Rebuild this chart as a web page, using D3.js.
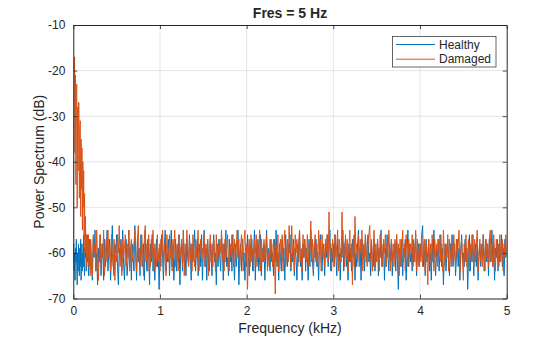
<!DOCTYPE html>
<html><head><meta charset="utf-8">
<script src="https://cdn.jsdelivr.net/npm/d3@7"></script>
<style>
body{margin:0;background:#fff}
svg{display:block}
text{font-family:"Liberation Sans",Arial,Helvetica,sans-serif;fill:#262626}
</style>
</head><body>
<svg id="c" width="560" height="337"></svg>
<script>
// ---- data ----
const titleText = "Fres = 5 Hz";
const xLabel = "Frequency (kHz)";
const yLabel = "Power Spectrum (dB)";
const seriesNames = ["Healthy", "Damaged"];
const xTicks = [0, 1, 2, 3, 4, 5];
const yTicks = [-70, -60, -50, -40, -30, -20, -10];

// low band: 0..195 Hz, 5 Hz step
const lowStartHz = 0, lowStepHz = 5;
const healthyLow = [-61,-58,-64,-60,-66,-59,-62,-57,-63,-67,-60,-64,-58,-62,-65,-59,-63,-57,-66,-61,
  -58,-64,-60,-63,-56,-62,-65,-59,-61,-57,-64,-60,-56,-62,-58,-65,-60,-57,-63,-59];
const damagedLow = [-62,-30,-19,-17,-38,-21,-45,-24,-23,-50,-28,-42,-27,-27,-48,-33,-31,-52,-35,-46,
  -37,-55,-40,-50,-42,-57,-47,-60,-52,-58,-56,-63,-57,-61,-59,-56,-63,-60,-58,-65];

// high band: 200..5000 Hz, 10 Hz step
const highStartHz = 200, highStepHz = 10;
const healthyHigh = [
-58,-63,-66,-57,-61,-55,-64,-60,-67,-59,
-62,-56,-65,-61,-58,-66,-57,-63,-60,-55,
-64,-59,-57,-66,-61,-54,-62,-65,-58,-60,
-56,-63,-67,-59,-61,-57,-64,-55,-62,-66,
-60,-57,-65,-62,-55,-63,-59,-66,-58,-61,
-64,-54,-60,-66,-57,-62,-59,-65,-56,-61,
-63,-58,-66,-55,-61,-64,-57,-60,-67,-58,
-62,-56,-64,-59,-66,-61,-57,-63,-60,-68,
-58,-63,-56,-61,-66,-59,-55,-64,-60,-62,
-57,-65,-60,-55,-63,-58,-66,-61,-57,-64,
-59,-62,-56,-67,-60,-58,-64,-55,-62,-60,
-65,-57,-61,-63,-56,-60,-66,-58,-62,-59,
-55,-64,-60,-57,-65,-61,-58,-63,-56,-66,
-60,-55,-63,-59,-66,-57,-62,-64,-58,-61,
-65,-59,-56,-62,-60,-67,-58,-63,-57,-61,
-64,-56,-60,-66,-58,-62,-55,-63,-61,-65,
-57,-62,-59,-64,-56,-61,-66,-58,-63,-60,
-55,-67,-61,-58,-64,-57,-62,-60,-66,-59,
-63,-56,-61,-65,-58,-62,-57,-64,-60,-55,
-66,-59,-62,-57,-64,-61,-56,-65,-59,-62,
-58,-66,-60,-55,-63,-59,-61,-64,-57,-62,
-60,-65,-57,-62,-55,-63,-60,-66,-58,-61,
-64,-57,-62,-59,-66,-56,-61,-63,-58,-60,
-56,-64,-60,-62,-57,-65,-59,-61,-66,-58,
-62,-55,-63,-60,-66,-58,-61,-57,-64,-59,
-61,-66,-57,-63,-55,-60,-62,-65,-58,-61,
-57,-63,-60,-66,-59,-56,-62,-64,-58,-60,
-65,-58,-61,-56,-63,-60,-55,-64,-59,-62,
-58,-63,-56,-61,-65,-57,-62,-60,-66,-59,
-61,-55,-64,-59,-57,-63,-60,-66,-58,-62,
-59,-64,-57,-61,-56,-66,-60,-63,-58,-55,
-63,-59,-66,-57,-61,-60,-64,-56,-62,-59,
-56,-62,-60,-65,-58,-61,-63,-57,-64,-60,
-62,-57,-65,-59,-61,-55,-63,-60,-58,-66,
-59,-63,-56,-61,-64,-58,-62,-57,-65,-60,
-61,-58,-64,-56,-62,-68,-59,-60,-63,-57,
-65,-59,-61,-57,-66,-60,-55,-63,-58,-62,
-60,-64,-57,-62,-59,-56,-65,-61,-58,-63,
-58,-61,-56,-54,-63,-59,-65,-57,-62,-60,
-57,-64,-60,-66,-58,-62,-55,-61,-65,-59,
-62,-57,-64,-60,-56,-63,-59,-67,-61,-58,
-64,-60,-57,-62,-65,-58,-61,-56,-63,-60,
-58,-65,-61,-57,-63,-59,-66,-60,-56,-62,
-60,-63,-57,-62,-59,-68,-61,-56,-64,-59,
-62,-56,-65,-60,-58,-63,-57,-66,-61,-58,
-63,-59,-61,-56,-64,-60,-57,-62,-58,-65,
-57,-62,-60,-55,-63,-58,-66,-59,-61,-57,
-64,-58,-62,-60,-56,-63,-59,-65,-57,-61,
-60];
const damagedHigh = [
-57,-62,-65,-56,-60,-58,-64,-55,-61,-66,
-59,-56,-63,-58,-61,-55,-65,-60,-57,-62,
-55,-61,-58,-64,-56,-60,-63,-57,-66,-59,
-62,-56,-60,-54,-63,-58,-65,-57,-61,-59,
-56,-63,-58,-61,-55,-64,-59,-57,-62,-60,
-58,-55,-61,-64,-57,-54,-62,-59,-63,-56,
-60,-65,-57,-54,-62,-58,-64,-56,-61,-63,
-57,-61,-55,-64,-58,-60,-63,-56,-62,-59,
-64,-57,-60,-55,-63,-58,-61,-65,-56,-60,
-62,-56,-61,-58,-64,-57,-60,-55,-63,-59,
-58,-64,-56,-61,-59,-57,-63,-55,-65,-58,
-61,-55,-59,-63,-57,-62,-58,-64,-56,-60,
-63,-57,-61,-58,-55,-64,-60,-57,-62,-59,
-60,-56,-63,-58,-61,-57,-65,-59,-56,-62,
-58,-63,-57,-60,-64,-56,-62,-58,-61,-57,
-60,-55,-62,-58,-64,-57,-61,-59,-56,-63,
-64,-58,-61,-56,-60,-63,-57,-62,-59,-55,
-61,-57,-63,-59,-56,-58,-64,-57,-55,-62,
-58,-68,-60,-57,-63,-56,-61,-59,-64,-57,
-60,-56,-63,-58,-61,-55,-64,-57,-60,-62,
-57,-62,-59,-56,-64,-60,-63,-57,-61,-58,
-63,-57,-60,-69,-58,-62,-56,-64,-59,-57,
-61,-56,-64,-58,-55,-63,-60,-57,-62,-54,
-60,-63,-54,-61,-58,-64,-56,-60,-57,-63,
-58,-55,-62,-59,-64,-56,-61,-57,-60,-62,
-56,-63,-58,-60,-53,-62,-57,-64,-59,-56,
-62,-58,-63,-55,-60,-57,-64,-56,-61,-58,
-63,-57,-60,-56,-62,-51,-59,-58,-64,-57,
-59,-63,-56,-61,-58,-55,-64,-57,-60,-62,
-51,-60,-58,-63,-56,-61,-57,-64,-59,-55,
-62,-58,-67,-57,-63,-52,-60,-58,-62,-56,
-63,-57,-60,-55,-64,-58,-61,-56,-60,-63,
-58,-56,-54,-62,-57,-64,-59,-55,-63,-58,
-62,-57,-60,-64,-56,-61,-58,-63,-57,-60,
-56,-63,-58,-61,-55,-60,-64,-57,-62,-58,
-63,-57,-60,-56,-62,-58,-65,-57,-63,-59,
-55,-62,-58,-64,-56,-60,-63,-57,-61,-58,
-60,-56,-63,-58,-62,-55,-64,-57,-60,-63,
-58,-62,-56,-63,-59,-57,-64,-58,-61,-67,
-57,-62,-58,-63,-56,-60,-64,-57,-61,-58,
-63,-57,-60,-56,-62,-58,-64,-55,-60,-63,
-58,-61,-56,-64,-57,-60,-63,-58,-62,-56,
-60,-63,-57,-61,-58,-55,-64,-59,-57,-62,
-66,-58,-62,-56,-63,-60,-57,-64,-58,-61,
-56,-60,-63,-57,-62,-58,-55,-64,-60,-57,
-62,-58,-63,-56,-60,-64,-57,-61,-58,-63,
-57,-55,-62,-58,-63,-56,-60,-64,-57,-61,
-58,-63,-56,-62,-60,-57,-64,-58,-61,-56,
-60];

// ---- build points (kHz, dB) ----
function band(vals, start, step){ return vals.map((v,i)=>({f:(start+i*step)/1000, v})); }
const healthy = band(healthyLow, lowStartHz, lowStepHz).concat(band(healthyHigh, highStartHz, highStepHz));
const damaged = band(damagedLow, lowStartHz, lowStepHz).concat(band(damagedHigh, highStartHz, highStepHz));

// ---- layout ----
const L = 73.3, R = 506.7, T = 25, B = 298.5;
const colors = ["#0072BD", "#D95319"];
const axisCol = "#262626";

const svg = d3.select("#c");
const x = d3.scaleLinear().domain([0,5]).range([L,R]);
const y = d3.scaleLinear().domain([-70,-10]).range([B,T]);

// grid
const g = svg.append("g");
g.selectAll(".gx").data(xTicks.slice(1,-1)).join("line")
  .attr("x1",d=>x(d)).attr("x2",d=>x(d)).attr("y1",T).attr("y2",B)
  .attr("stroke","#dedede").attr("stroke-width",0.8);
g.selectAll(".gy").data(yTicks.slice(1,-1)).join("line")
  .attr("y1",d=>y(d)).attr("y2",d=>y(d)).attr("x1",L).attr("x2",R)
  .attr("stroke","#dedede").attr("stroke-width",0.8);

// clip
svg.append("clipPath").attr("id","clip").append("rect")
  .attr("x",L).attr("y",T).attr("width",R-L).attr("height",B-T);

const line = d3.line().x(d=>x(d.f)).y(d=>y(d.v));
const plot = svg.append("g").attr("clip-path","url(#clip)");
[healthy, damaged].forEach((s,i)=>{
  plot.append("path").datum(s).attr("d",line)
    .attr("fill","none").attr("stroke",colors[i]).attr("stroke-width",1)
    .attr("stroke-linejoin","round");
});

// axes
const fmt = d => String(d);
const ax = svg.append("g").attr("transform",`translate(0,${B})`)
  .call(d3.axisBottom(x).tickValues(xTicks).tickFormat(fmt).tickSizeInner(-4).tickSizeOuter(0).tickPadding(8));
const ay = svg.append("g").attr("transform",`translate(${L},0)`)
  .call(d3.axisLeft(y).tickValues(yTicks).tickFormat(fmt).tickSizeInner(-4).tickSizeOuter(0).tickPadding(8));
const axT = svg.append("g").attr("transform",`translate(0,${T})`)
  .call(d3.axisTop(x).tickValues(xTicks).tickFormat("").tickSizeInner(-4).tickSizeOuter(0));
const ayR = svg.append("g").attr("transform",`translate(${R},0)`)
  .call(d3.axisRight(y).tickValues(yTicks).tickFormat("").tickSizeInner(-4).tickSizeOuter(0));
[ax,ay,axT,ayR].forEach(a=>{
  a.selectAll("path.domain").attr("stroke",axisCol).attr("stroke-width",1);
  a.selectAll(".tick line").attr("stroke",axisCol).attr("stroke-width",0.8);
  a.selectAll(".tick text").attr("fill",axisCol).style("font-size","12px")
    .style("font-family",'"Liberation Sans",Arial,sans-serif');
});

// labels
svg.append("text").attr("x",(L+R)/2).attr("y",18).attr("text-anchor","middle")
  .style("font-size","14px").style("font-weight","bold").text(titleText);
svg.append("text").attr("x",(L+R)/2).attr("y",333).attr("text-anchor","middle")
  .style("font-size","14px").text(xLabel);
svg.append("text").attr("transform",`translate(39,${(T+B)/2}) rotate(-90)`)
  .attr("text-anchor","middle").attr("dy","0.35em").style("font-size","14px").text(yLabel);

// legend
const lg = svg.append("g");
lg.append("rect").attr("x",392.5).attr("y",36.5).attr("width",103.5).attr("height",30.5)
  .attr("fill","#fff").attr("stroke",axisCol).attr("stroke-width",0.7);
seriesNames.forEach((n,i)=>{
  const yy = 44.5 + i*14.7;
  lg.append("line").attr("x1",396).attr("x2",435).attr("y1",yy).attr("y2",yy)
    .attr("stroke",colors[i]).attr("stroke-width",1);
  lg.append("text").attr("x",439).attr("y",yy).attr("dy","0.35em")
    .style("font-size","12px").text(n);
});
</script>
</body></html>
